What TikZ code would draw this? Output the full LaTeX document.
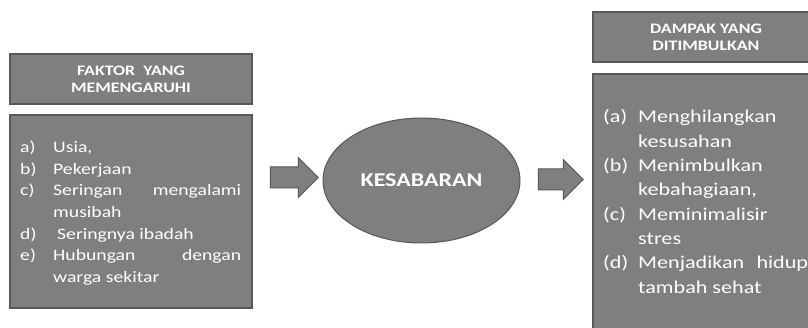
\documentclass[tikz,border=0pt]{standalone}
\usepackage{fontspec}
\setmainfont{Carlito}[FakeStretch=1.23]
\usetikzlibrary{shapes.geometric,shapes.arrows}
\definecolor{boxfill}{RGB}{127,127,127}
\definecolor{boxline}{RGB}{88,88,88}
\newcommand\litem[2]{\makebox[33pt][l]{#1}#2\par}
\newcommand\lcont[1]{\hspace*{33pt}#1\par}
\newcommand\ritem[2]{\makebox[35pt][l]{#1}#2\par}
\newcommand\rcont[1]{\hspace*{35pt}#1\par}
\tikzset{
  panel/.style={draw=boxline, fill=boxfill, line width=1.5pt, rectangle, inner sep=0pt},
  ttl/.style={panel, align=center, text=white, font=\bfseries\fontsize{14.5}{17}\selectfont},
  txt/.style={text=white, inner sep=0pt, anchor=base west},
  blockarrow/.style={single arrow, draw=boxline, fill=boxfill, line width=1pt,
    inner xsep=0pt, inner ysep=10pt, minimum width=39pt, single arrow head extend=9.5pt},
}
\begin{document}
\begin{tikzpicture}[x=1pt,y=-1pt]
\useasboundingbox (0,0) rectangle (808,328);
\clip (0,0) rectangle (808,328);
% left
\node[ttl, minimum width=242pt, minimum height=50pt] (ltitle) at (131,79) {FAKTOR~ YANG\\MEMENGARUHI};
\node[panel, minimum width=242pt, minimum height=193pt] (lbox) at (131,211.5) {};
\node[txt] (ltext) at (20,152.5) {\parbox[t]{230pt}{\fontsize{16pt}{21.7pt}\selectfont
\litem{a)}{Usia,}
\litem{b)}{Pekerjaan}
\litem{c)}{\makebox[188pt][s]{Seringan mengalami}}
\lcont{musibah}
\litem{d)}{\hspace{4pt}Seringnya ibadah}
\litem{e)}{\makebox[188pt][s]{Hubungan dengan}}
\lcont{warga sekitar}}};
% arrows and ellipse
\node[blockarrow, minimum height=48pt] (arr1) at (289,177.5) {};
\node[ellipse, draw=boxline, fill=boxfill, line width=1pt, minimum width=197pt, minimum height=125pt, inner sep=0pt,
  text=white, font=\bfseries\fontsize{19.5}{22}\selectfont] (kes) at (421.5,180.5) {KESABARAN};
\node[blockarrow, minimum height=45pt] (arr2) at (555.5,179.5) {};
% right
\node[ttl, minimum width=226pt, minimum height=50pt] (rtitle) at (706,37) {DAMPAK YANG\\DITIMBULKAN};
\node[panel, minimum width=226pt, minimum height=266pt] (rbox) at (706,207) {};
\node[txt] (rtext) at (603,123) {\parbox[t]{215pt}{\fontsize{18pt}{24.3pt}\selectfont
\ritem{(a)}{Menghilangkan}
\rcont{kesusahan}
\ritem{(b)}{Menimbulkan}
\rcont{kebahagiaan,}
\ritem{(c)}{Meminimalisir}
\rcont{stres}
\ritem{(d)}{\makebox[170pt][s]{Menjadikan hidup}}
\rcont{tambah sehat}}};
\end{tikzpicture}
\end{document}
